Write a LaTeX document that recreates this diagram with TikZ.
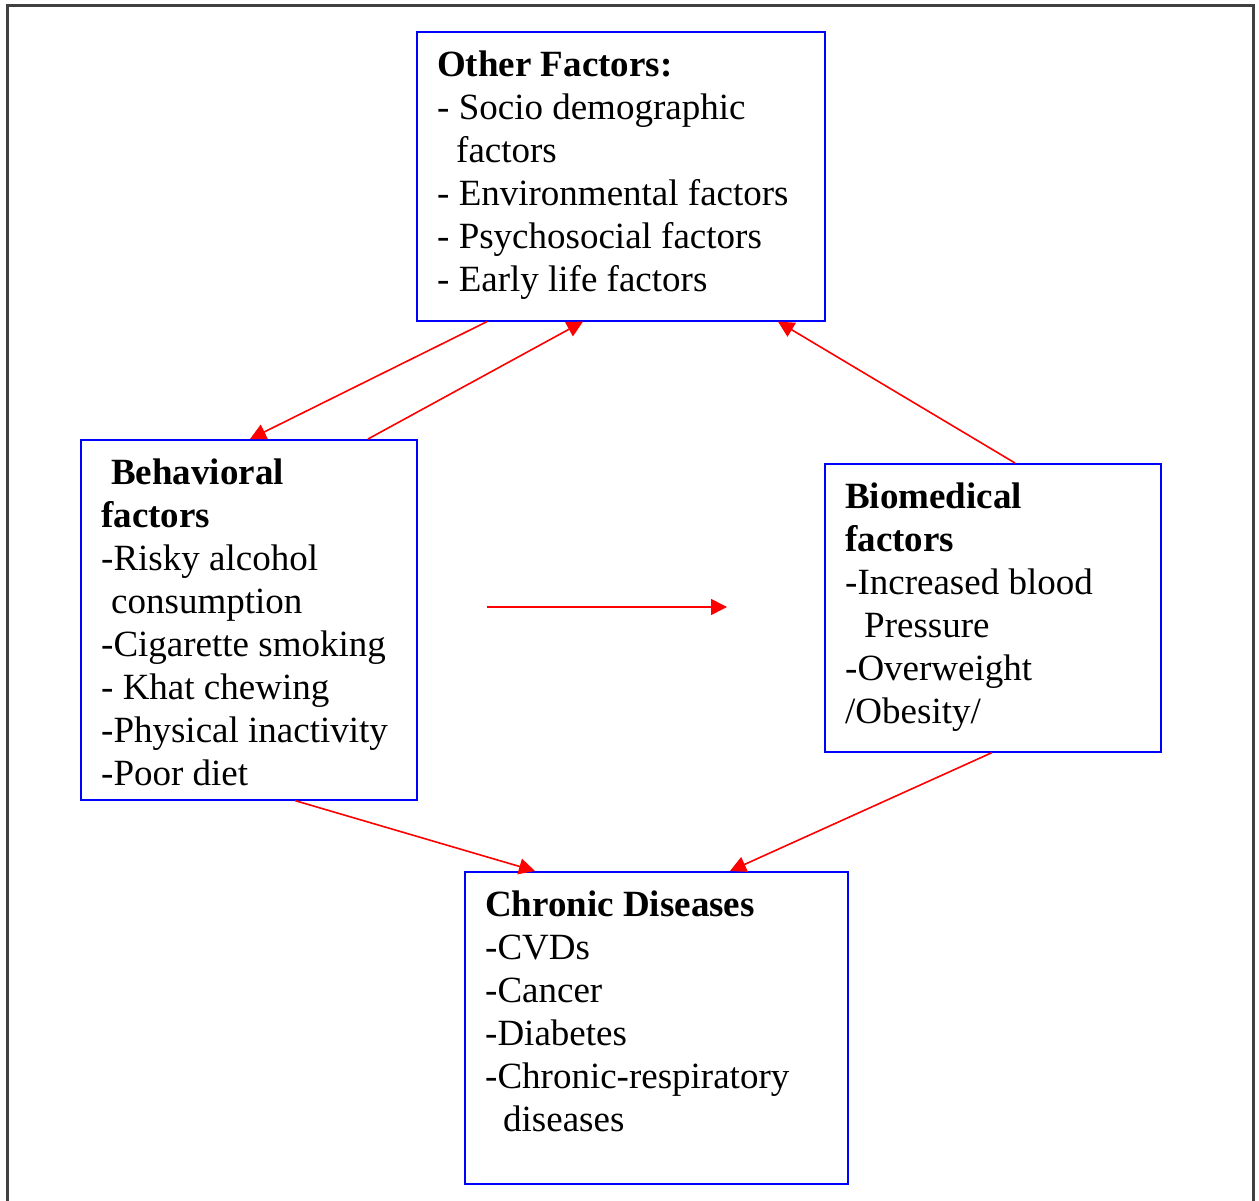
\documentclass[tikz,border=0pt]{standalone}
\usepackage{fontspec}
\setmainfont{Liberation Serif}
\usetikzlibrary{arrows.meta,positioning}
\tikzset{%
  tipA/.tip={Triangle[length=16pt,width=16pt]},
  factbox/.style={draw=blue, line width=1.6pt, inner sep=0pt, anchor=north west},
  facttext/.style={anchor=north west, inner sep=0pt, align=left, font=\fontsize{37}{43}\selectfont},
  link/.style={red, line width=1.6pt, -tipA}
}

\begin{document}
\begin{tikzpicture}[x=1pt,y=-1pt]
\useasboundingbox (0,0) rectangle (1259,1201);
% outer frame, open at the bottom
\draw[black!75, line width=3pt] (7,1201)--(7,6)--(1253,6)--(1253,1201);
% boxes
\node[factbox, minimum width=408pt, minimum height=289pt] (other) at (416,31) {};
\node[factbox, minimum width=336pt, minimum height=360pt] (behav) at (80,439) {};
\node[factbox, minimum width=336pt, minimum height=288pt] (biomed) at (824,463) {};
\node[factbox, minimum width=383pt, minimum height=312pt] (chronic) at (464,871) {};
% texts
\node[facttext] (othertxt) at ([xshift=21pt,yshift=-20pt]other.north west)
  {\textbf{Other Factors:}\\- Socio demographic\\\hspace*{19pt}factors\\- Environmental factors\\- Psychosocial factors\\- Early life factors};
\node[facttext] (behavtxt) at ([xshift=21pt,yshift=-20pt]behav.north west)
  {\hspace*{10pt}\textbf{Behavioral}\\\textbf{factors}\\-Risky alcohol\\\hspace*{10pt}consumption\\-Cigarette smoking\\- Khat chewing\\-Physical inactivity\\-Poor diet};
\node[facttext] (biomedtxt) at ([xshift=21pt,yshift=-20pt]biomed.north west)
  {\textbf{Biomedical}\\\textbf{factors}\\-Increased blood\\\hspace*{19pt}Pressure\\-Overweight\\/Obesity/};
\node[facttext] (chronictxt) at ([xshift=21pt,yshift=-20pt]chronic.north west)
  {\textbf{Chronic Diseases}\\-CVDs\\-Cancer\\-Diabetes\\-Chronic-respiratory\\\hspace*{18pt}diseases};
% arrows
\draw[link] ([xshift=71pt]other.south west) -- ([xshift=170pt]behav.north west);
\draw[link] ([xshift=288pt]behav.north west) -- ([xshift=167pt]other.south west);
\draw[link] ([xshift=191pt]biomed.north west) -- ([xshift=362pt]other.south west);
\draw[link] ([xshift=215pt]behav.south west) -- ([xshift=71pt]chronic.north west);
\draw[link] ([xshift=168pt]biomed.south west) -- ([xshift=266pt]chronic.north west);
\coordinate (midA) at (487,607);
\coordinate (midB) at (727,607);
\draw[link] (midA) -- (midB);
\end{tikzpicture}
\end{document}
